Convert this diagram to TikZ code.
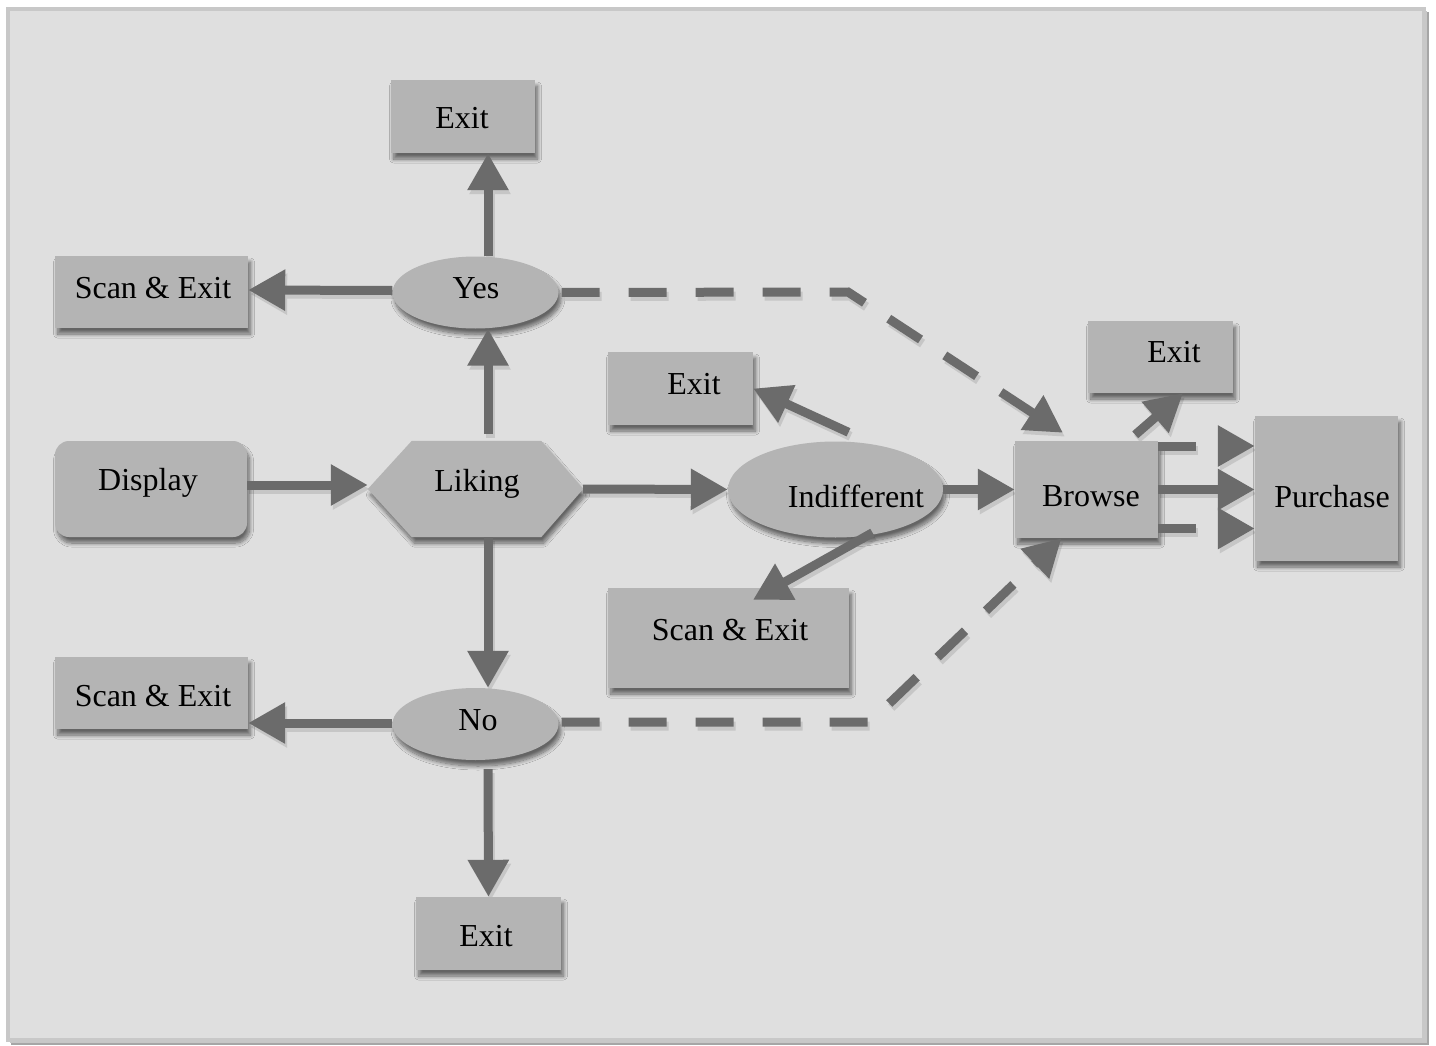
\documentclass[tikz,border=0pt]{standalone}
\usepackage{fontspec}
\setmainfont{Liberation Serif}
\usetikzlibrary{arrows.meta,shapes.geometric,shadows.blur,calc}

\definecolor{pagebg}{HTML}{DFDFDF}
\definecolor{frameline}{HTML}{C8C8C8}
\definecolor{boxfill}{HTML}{B4B4B4}
\definecolor{linkcol}{HTML}{6B6B6B}
\definecolor{linkshade}{HTML}{C6C6C6}

\tikzset{
  softshadow/.style={blur shadow={shadow xshift=2.5pt, shadow yshift=-6pt,
      shadow blur radius=4pt, shadow blur steps=10, shadow opacity=55}},
  nodelook/.style={},
  boxshape/.style={rectangle, draw=none, inner sep=0pt, nodelook},
  ovalshape/.style={ellipse, draw=none, inner sep=0pt, nodelook},
  tagtext/.style={font=\fontsize{32}{38}\selectfont, inner sep=0pt, anchor=base, text=black},
  conn/.style={draw=linkcol, line width=9pt, -{Triangle[length=37pt,width=39pt]}},
  dashconn/.style={conn, dash pattern=on 38pt off 29pt, dash phase=64pt},
  stubconn/.style={conn, dash pattern=on 38pt off 40pt},
  connshade/.style={draw=linkshade, transform canvas={shift={(2pt,-4pt)}}},
}

% all boxes and ovals of the chart
\newcommand\chartnodes{%
  \node[boxshape, minimum width=144pt, minimum height=73pt] (exitTop) at (463,116.5) {};
  \node[boxshape, minimum width=193pt, minimum height=72pt] (scanTL) at (151.5,292) {};
  \node[ovalshape, minimum width=166pt, minimum height=72pt] (yes) at (475.5,292.5) {};
  \node[boxshape, rounded corners=14pt, minimum width=192pt, minimum height=96pt] (display) at (151,489) {};
  \node[rectangle, inner sep=0pt, minimum width=215pt, minimum height=96pt] (liking) at (475.5,489) {};
  \node[ovalshape, minimum width=215pt, minimum height=96pt] (ind) at (835.5,489.5) {};
  \node[boxshape, minimum width=145pt, minimum height=73pt] (exitMid) at (680.5,388.5) {};
  \node[boxshape, minimum width=241pt, minimum height=100pt] (scanMid) at (728.5,638) {};
  \node[boxshape, minimum width=143pt, minimum height=97pt] (browse) at (1086.5,489.5) {};
  \node[boxshape, minimum width=145pt, minimum height=72pt] (exitR) at (1160.5,357) {};
  \node[boxshape, minimum width=143pt, minimum height=145pt] (purchase) at (1326.5,488.5) {};
  \node[boxshape, minimum width=193pt, minimum height=72pt] (scanBL) at (151.5,693) {};
  \node[ovalshape, minimum width=166pt, minimum height=72pt] (no) at (475.5,724) {};
  \node[boxshape, minimum width=145pt, minimum height=73pt] (exitBot) at (488.5,933.5) {};
}

% every connector of the chart, drawn with an optional extra style
\newcommand\chartlinks[1]{%
  \draw[conn,#1] ([yshift=4pt]display.east) -- ([yshift=4pt]liking.west);
  \draw[conn,#1] (liking.east) -- (ind.west);
  \draw[conn,#1] ([xshift=12.5pt,yshift=7pt]liking.north) -- ([xshift=12.5pt]yes.south);
  \draw[conn,#1] ([xshift=12.5pt]yes.north) -- ([xshift=25pt]exitTop.south);
  \draw[conn,#1] ([yshift=2pt]yes.west) -- ([yshift=2pt]scanTL.east);
  \draw[dashconn,#1] (yes.east) -- (bendY) -- ([xshift=-23.5pt,yshift=8pt]browse.north);
  \draw[conn,#1] ([xshift=12.5pt]liking.south) -- ([xshift=12.5pt]no.north);
  \draw[conn,#1] ([yshift=1pt]no.west) -- ([yshift=-30pt]scanBL.east);
  \draw[conn,#1] ([xshift=12.5pt,yshift=-9pt]no.south) -- (exitBot.north);
  \draw[dashconn,#1] ([yshift=2pt]no.east) -- (bendN) -- ([xshift=-25pt]browse.south);
  \draw[conn,#1] ([xshift=13pt,yshift=9pt]ind.north) -- (exitMid.east);
  \draw[conn,#1] ([xshift=37pt,yshift=5pt]ind.south) -- ([xshift=24.5pt,yshift=-12pt]scanMid.north);
  \draw[conn,#1] (ind.east) -- (browse.west);
  \draw[conn,#1] ([xshift=-23pt,yshift=6pt]browse.north east) -- ([xshift=22.5pt]exitR.south);
  \draw[conn,#1] (browse.east) -- (purchase.west |- browse.east);
  \draw[stubconn,#1] (bTop) -- (bTop -| purchase.west);
  \draw[stubconn,#1] (bLow) -- (bLow -| purchase.west);
}

\begin{document}
\begin{tikzpicture}[x=1pt, y=-1pt]
  \useasboundingbox (0,0) rectangle (1436,1046);

  % page frame
  \fill[white] (0,0) rectangle (1436,1046);
  \fill[black!35] (11,12) rectangle (1429,1045);
  \fill[black!22] (10,11) rectangle (1427,1043);
  \draw[frameline, line width=4pt, fill=pagebg] (8,9) rectangle (1424,1040);

  % invisible pass: node geometry for the connector shadows
  \chartnodes
  \coordinate (bendY) at (848,292);
  \coordinate (bendN) at (870,722);
  \coordinate (bTop) at ([yshift=43.5pt]browse.east);
  \coordinate (bLow) at ([yshift=-39pt]browse.east);
  \chartlinks{connshade}

  % visible boxes and ovals
  \begin{scope}[nodelook/.style={fill=boxfill, softshadow}]
    \chartnodes
  \end{scope}
  \path[fill=boxfill, softshadow] (liking.west) -- ([xshift=44pt]liking.north west)
    -- ([xshift=-42pt]liking.north east) -- (liking.east)
    -- ([xshift=-42pt]liking.south east) -- ([xshift=44pt]liking.south west) -- cycle;

  % connectors
  \chartlinks{}

  % labels
  \node[tagtext] (exitTopT) at (462,129) {Exit};
  \node[tagtext] (scanTLT) at (153,298) {Scan \& Exit};
  \node[tagtext] (yesT) at (476,298) {Yes};
  \node[tagtext] (displayT) at (148,490) {Display};
  \node[tagtext] (likingT) at (477,491) {Liking};
  \node[tagtext] (indT) at (856,507) {Indifferent};
  \node[tagtext] (exitMidT) at (694,394) {Exit};
  \node[tagtext] (scanMidT) at (730,640) {Scan \& Exit};
  \node[tagtext] (browseT) at (1091,506) {Browse};
  \node[tagtext] (exitRT) at (1174,362) {Exit};
  \node[tagtext] (purchaseT) at (1332,507) {Purchase};
  \node[tagtext] (scanBLT) at (153,706) {Scan \& Exit};
  \node[tagtext] (noT) at (478,730) {No};
  \node[tagtext] (exitBotT) at (486,946) {Exit};
\end{tikzpicture}
\end{document}
